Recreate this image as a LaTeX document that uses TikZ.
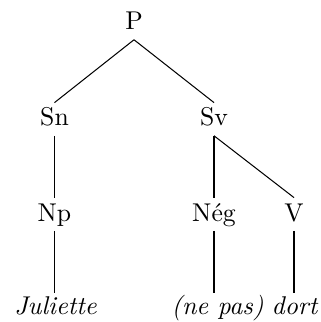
\documentclass[tikz,border=0pt]{standalone}
\begin{document}
\begin{tikzpicture}[x=0.389pt,y=-0.389pt,
  cat/.style={anchor=base,inner xsep=2pt,inner ysep=1.9pt,text height=7pt,text depth=1.7pt},
  leaf/.style={anchor=base,inner xsep=2pt,inner ysep=1.1pt,text height=6.9pt,text depth=2.5pt,font=\itshape},
  edge/.style={draw=black,line width=0.4pt}]
\useasboundingbox (0,0) rectangle (321,322);
\node[cat] (P) at (134,30) {P};
\node[cat] (Sn) at (54.5,126) {Sn};
\node[cat] (Sv) at (214,126) {Sv};
\node[cat] (Np) at (54.5,221) {Np};
\node[cat] (Neg) at (214,221) {Nég};
\node[cat] (V) at (294,221) {V};
\node[leaf] (J) at (55.5,314.5) {Juliette};
\node[leaf] (NP) at (217.5,314.5) {(ne pas)};
\node[leaf] (D) at (294.5,314.5) {dort};
\draw[edge] (P.south) -- (Sn.north);
\draw[edge] (P.south) -- (Sv.north);
\draw[edge] (Sn.south) -- (Np.north);
\draw[edge] (Sv.south) -- (Neg.north);
\draw[edge] (Sv.south) -- (V.north);
\draw[edge] (Np.south) -- (J.north -| Np.south);
\draw[edge] (Neg.south) -- (NP.north -| Neg.south);
\draw[edge] (V.south) -- (D.north -| V.south);
\end{tikzpicture}
\end{document}
